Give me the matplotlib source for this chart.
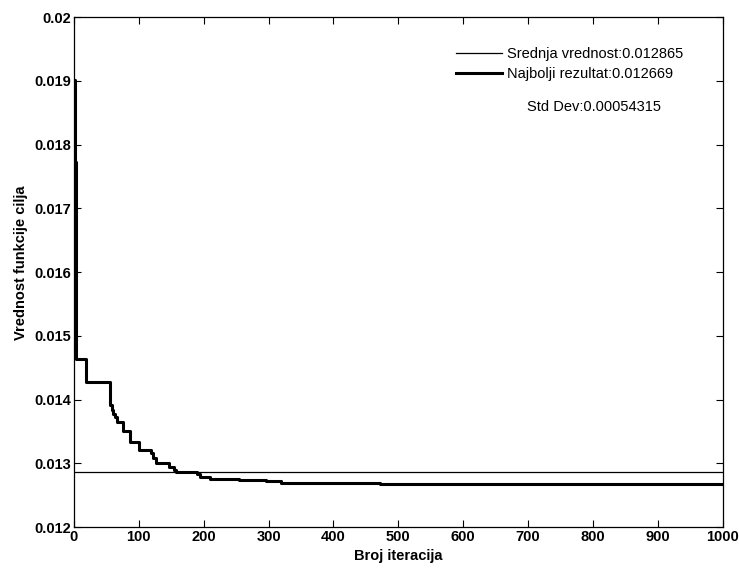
import matplotlib.pyplot as plt

# best-so-far objective value (step changes)
best_iter = [0, 2, 4, 18, 56, 58, 61, 64, 67, 76, 86, 100, 119, 122, 127,
             147, 155, 158, 189, 194, 209, 255, 296, 319, 471, 548, 1000]
best_val = [0.01902, 0.01773, 0.01463, 0.01428, 0.01391, 0.01384, 0.01378,
            0.01373, 0.01365, 0.01350, 0.01334, 0.01321, 0.01317, 0.01308,
            0.01301, 0.01295, 0.01290, 0.01286, 0.01284, 0.01279, 0.01276,
            0.01274, 0.01272, 0.012690, 0.012678, 0.012669, 0.012669]

mean_val = 0.012865
best_result = 0.012669
std_dev = 0.00054315

x_ticks = [0, 100, 200, 300, 400, 500, 600, 700, 800, 900, 1000]
y_ticks = [0.012, 0.013, 0.014, 0.015, 0.016, 0.017, 0.018, 0.019, 0.02]
y_ticklabels = ["0.012", "0.013", "0.014", "0.015", "0.016", "0.017", "0.018", "0.019", "0.02"]

plt.rcParams['font.family'] = ['Liberation Sans', 'DejaVu Sans']

fig = plt.figure(figsize=(7.39, 5.68), dpi=100)
ax = fig.add_axes([0.100, 0.072, 0.878, 0.898])

ax.plot([0, 1000], [mean_val, mean_val], color='black', lw=0.9,
        label=f"Srednja vrednost:{mean_val}")
ax.plot(best_iter, best_val, color='black', lw=2.2, drawstyle='steps-post',
        label=f"Najbolji rezultat:{best_result}")

ax.set_xlim(0, 1000)
ax.set_ylim(0.012, 0.02)
ax.set_xticks(x_ticks)
ax.set_yticks(y_ticks)
ax.set_yticklabels(y_ticklabels)
ax.tick_params(direction='in', top=True, right=True, length=5, width=0.8,
               labelsize=10.5, pad=2)
for lab in ax.get_xticklabels() + ax.get_yticklabels():
    lab.set_fontweight('bold')
for sp in ax.spines.values():
    sp.set_linewidth(0.9)

ax.set_xlabel("Broj iteracija", fontsize=10.5, fontweight='bold', labelpad=4)
ax.set_ylabel("Vrednost funkcije cilja", fontsize=10.5, fontweight='bold')
ax.yaxis.set_label_coords(-0.070, 0.518)

ax.legend(loc='upper right', bbox_to_anchor=(0.96, 0.967), frameon=False,
          fontsize=10.5, handlelength=3.1, handletextpad=0.4, labelspacing=0.44)
ax.text(0.802, 0.824, f"Std Dev:{std_dev}", transform=ax.transAxes,
        fontsize=10.5, ha='center', va='center')

fig.savefig("out.png", dpi=100)
